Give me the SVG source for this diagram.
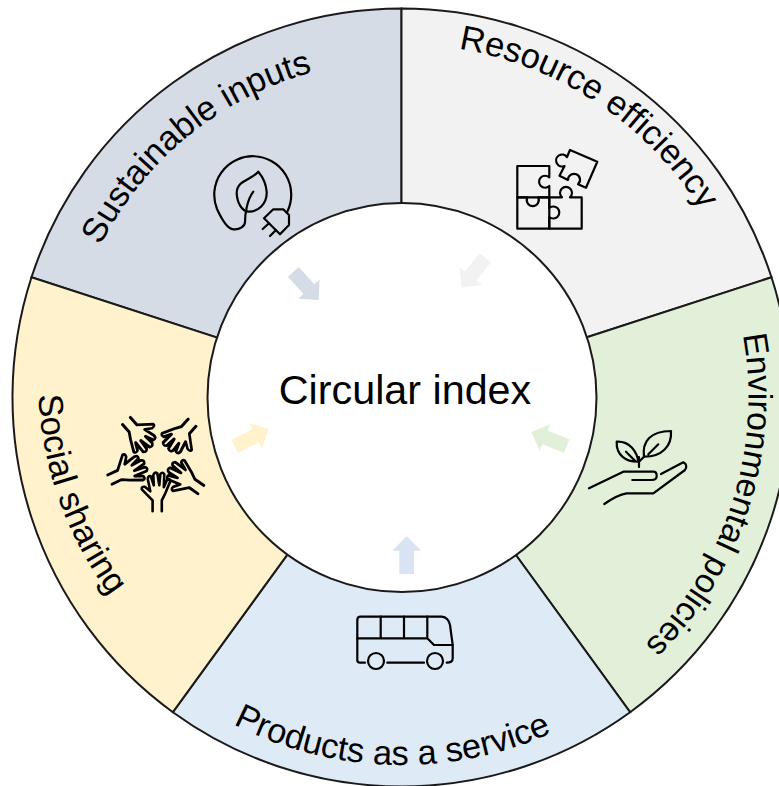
<svg xmlns="http://www.w3.org/2000/svg" width="779" height="786" viewBox="0 0 779 786">
<style>
.edge{stroke:#1a1a1a;stroke-width:2;}
.label{font-family:"Liberation Sans",Arial,sans-serif;font-size:34.5px;fill:#000;text-anchor:middle;}
.icon{fill:none;stroke:#000;stroke-width:2.2;stroke-linecap:round;stroke-linejoin:round;}
.hand{fill:none;stroke:#000;stroke-width:2.6;stroke-linecap:round;stroke-linejoin:round;}
</style>
<defs>
<path id="cw337" d="M109.7 228.5A337 337 0 0 1 693.3 228.5"/>
<path id="cw353" d="M95.8 220.500A353 353 0 0 1 707.200 220.500"/>
<path id="cw347" d="M101 223.500A347 347 0 0 1 702 223.500"/>
<path id="ccw368" d="M82.8 581A368 368 0 0 0 720.2 581"/>
<path id="ccw363" d="M87.1 578.5A363 363 0 0 0 715.9 578.5"/>
<path id="arrow" d="M0-19L14.3-4.3H7.3V19H-7.3V-4.3H-14.3Z"/>
<path id="hand" class="hand" d="M-5.7 53V42L-16.5 31Q-17 28-13.5 28.5L-8 33L-10.5 21Q-10.5 17-7.500 18L-4.500 27L-5 17Q-4 13-1 15L1 27L2 16Q4 13 6 16L5.500 29L9 21Q12 20 12 23L7 35L3.500 42V53"/>
</defs>
<g id="sustainable-inputs">
<path class="edge" fill="#d6dce5" d="M401.500 397.500L31.500 277.300A389 389 0 0 1 401.500 8.500Z"/>
<text class="label" transform="rotate(-39.300 401.5 397)"><textPath href="#cw337" startOffset="50%">Sustainable inputs</textPath></text>
<g class="icon">
<path d="M287.300 211.700A38.500 38.500 0 1 0 217 209C222 220 228 229 233.300 229.300C240 230 245 226 245 222C245 214 247 200 253.300 191.700"/>
<path d="M258.300 171.700C250 181 237 180 236.700 193C237 203 242 211 248.300 211.700C258 212 267 204 266.700 192C266 183 262 176 258.300 171.700Z"/>
<path d="M264 218.300L280 234.300L289 225V215L283.300 209.300H273.300ZM269 223.300L262.700 229M276 230L270 236"/>
</g>
</g>
<g id="resource-efficiency">
<path class="edge" fill="#f2f2f2" d="M401.500 397.500V8.500A389 389 0 0 1 771.500 277.300Z"/>
<text class="label" transform="rotate(33.700 401.5 397)"><textPath href="#cw353" startOffset="50%">Resource efficiency</textPath></text>
<g class="icon">
<path d="M517.300 166H549.300V177.500A6 6 0 1 0 549.300 186V197.300H517.300Z"/>
<path d="M517.300 197.300H527.500A6 6 0 1 0 538 197.300H549.300V228.700H517.300Z"/>
<path d="M549.300 197.300H562A6 6 0 1 1 570 197.300H581.700V228.700H549.300V217A6 6 0 1 0 549.300 208Z"/>
<path d="M570 150L597.300 161.700L586 187.700L578 184.300A6 6 0 1 0 568 180L559.500 175.700L564.500 166A6 6 0 1 1 567 157Z"/>
</g>
</g>
<g id="environmental-policies">
<path class="edge" fill="#e2f0d9" d="M401.500 397.500L771.500 277.300A389 389 0 0 1 630.100 712.200Z"/>
<text class="label" style="font-size:33.800px" transform="rotate(107.600 401.500 397)"><textPath href="#cw347" startOffset="50%">Environmental policies</textPath></text>
<g class="icon">
<path d="M589 488.300L623.300 471.700H653.300Q656.700 471.700 656.700 476Q656.700 480 651.700 480H632.300"/>
<path d="M604.300 504Q616.700 495 626.700 493.300H653.300L685 470Q688.300 465 683.300 462.300L661 474"/>
<path d="M616.700 441.700C630 441 637 452 638.300 461.700C626 462 616 455 616.700 441.700ZM626 451.700L636 461.700M639 457V467M639 461.700L644 456.700"/>
<path d="M644 456.700C642 442 650 431 671 431C672 446 662 457 644 456.700ZM648.300 454.300L658.300 444.300"/>
</g>
</g>
<g id="products-as-a-service">
<path class="edge" fill="#deebf7" d="M401.500 397.500L630.100 712.200A389 389 0 0 1 172.900 712.200Z"/>
<text class="label" transform="rotate(1.550 401.500 397)"><textPath href="#ccw368" startOffset="50%">Products as a service</textPath></text>
<g class="icon">
<path d="M365 662.700H360Q357.300 662.700 357.300 660V620Q357.300 616.700 360.700 616.700H441.700Q448.300 617.300 450 625L452.700 645V658.300Q452.700 662.700 446.700 662.700"/>
<path d="M357.300 638.300H427.300L434 645H452.700M380.700 616.700V638.300M404 616.700V638.300M427.300 616.700V638.300M387.300 662.700H424"/>
<circle cx="376" cy="661" r="8"/>
<circle cx="435" cy="661" r="8"/>
</g>
</g>
<g id="social-sharing">
<path class="edge" fill="#fff2cc" d="M401.500 397.500L172.900 712.200A389 389 0 0 1 31.500 277.300Z"/>
<text class="label" transform="rotate(-3 50 395) rotate(73.300 401.500 397)"><textPath href="#ccw363" startOffset="50%">Social sharing</textPath></text>
<use href="#hand" transform="translate(158.300 458.300)"/>
<use href="#hand" transform="translate(158.300 458.300) rotate(65) scale(1.1 1)"/>
<use href="#hand" transform="translate(158.300 458.300) rotate(138) scale(1.15 .93)"/>
<use href="#hand" transform="translate(158.300 458.300) rotate(222) scale(1.15 .93)"/>
<use href="#hand" transform="translate(158.300 458.300) rotate(-55) scale(1.1 1)"/>
</g>
<g id="circular-index">
<circle class="edge" cx="402" cy="397.500" r="194.500" fill="#fff"/>
<text x="405" y="404" font-family="Liberation Sans, Arial, sans-serif" font-size="41.300" text-anchor="middle">Circular index</text>
</g>
<g id="connectors">
<use href="#arrow" fill="#d6dce5" transform="translate(306 286) rotate(138)"/>
<use href="#arrow" fill="#f2f2f2" transform="translate(473.400 272.700) rotate(218.500)"/>
<use href="#arrow" fill="#e2f0d9" transform="translate(549 439) rotate(-68)"/>
<use href="#arrow" fill="#dae3f3" transform="translate(406.700 555)"/>
<use href="#arrow" fill="#fff2cc" transform="translate(251.700 437.700) rotate(63)"/>
</g>
</svg>
